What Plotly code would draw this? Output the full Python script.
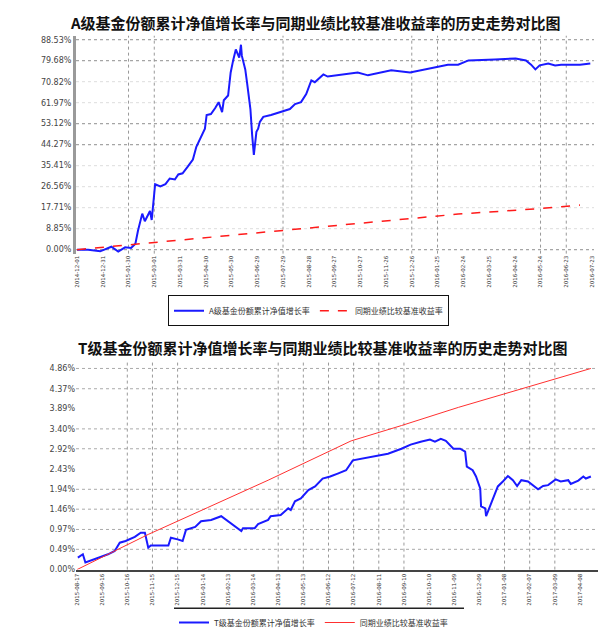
import pandas as pd
import plotly.graph_objects as go

# ---------------- data ----------------
title_a = "A级基金份额累计净值增长率与同期业绩比较基准收益率的历史走势对比图"
title_t = "T级基金份额累计净值增长率与同期业绩比较基准收益率的历史走势对比图"
name_a = "A级基金份额累计净值增长率"
name_t = "T级基金份额累计净值增长率"
name_bm = "同期业绩比较基准收益率"

start_a = "2014-12-01"
start_t = "2015-08-17"

# day offsets from start date, cumulative growth (%)
a_days = [0, 13, 27, 40, 48, 56, 63, 68, 71, 76, 79, 85, 87, 91, 97, 103, 108, 114, 118, 123,
          129, 135, 139, 144, 149, 151, 156, 161, 165, 169, 171, 176, 179, 182, 185, 189, 191, 192, 196, 198,
          202, 204, 206, 209, 211, 213, 217, 226, 238, 248, 254, 261, 267, 273, 277, 283, 287, 292, 312, 327,
          339, 366, 388, 412, 432, 444, 456, 487, 511, 523, 529, 534, 539, 549, 557, 564, 576, 586, 598]
a_vals = [0, 0, -0.7, 1.25, -0.8, 1.0, 0.7, 2.5, 8, 15.2, 12, 16.3, 12.5, 27.6, 26.7, 27.6, 30, 29.6, 31.7, 32.2,
          35, 38, 43.4, 47.2, 51, 56.8, 57.2, 59.7, 62.2, 58, 63, 65, 74.7, 80, 84.4, 81, 86.4, 81.8, 76, 70.6,
          59.3, 48.4, 40, 49.7, 51, 53.9, 56, 56.8, 58, 59.3, 61.4, 62.2, 65.6, 71.4, 70.6, 72.7, 73.9, 73, 73.9, 74.7,
          73.5, 75.6, 74.7, 76.4, 78, 78, 79.8, 80.2, 80.6, 79.8, 78, 76, 77.7, 78.5, 77.7, 78, 78, 78, 78.5]
a_bm_days = [0, 86, 211, 327, 444, 534, 586]
a_bm_vals = [0, 2.9, 7.2, 11.0, 15.0, 17.2, 18.8]

t_days = [1, 7, 10, 13, 21, 29, 37, 45, 51, 58, 69, 76, 81, 85, 88, 109, 112, 120, 126, 130,
          141, 148, 160, 172, 178, 184, 196, 198, 212, 216, 228, 231, 243, 252, 255, 260, 267, 276, 284, 293,
          302, 311, 321, 329, 339, 356, 371, 387, 398, 410, 421, 427, 434, 440, 449, 457, 463, 465, 472, 476,
          481, 482, 487, 488, 493, 499, 502, 508, 514, 520, 525, 530, 538, 550, 556, 562, 571, 577, 586, 589,
          598, 604, 607, 613]
t_vals = [0.29, 0.37, 0.17, 0.19, 0.26, 0.31, 0.37, 0.45, 0.65, 0.69, 0.79, 0.89, 0.89, 0.53, 0.58, 0.58, 0.77, 0.73, 0.69, 0.96,
          1.03, 1.17, 1.2, 1.29, 1.2, 1.12, 0.93, 1.0, 1.0, 1.1, 1.2, 1.29, 1.32, 1.48, 1.44, 1.65, 1.72, 1.92, 2.01, 2.2,
          2.25, 2.32, 2.4, 2.64, 2.68, 2.74, 2.8, 2.92, 3.02, 3.09, 3.14, 3.09, 3.16, 3.11, 2.92, 2.92, 2.85, 2.49, 2.4, 2.25,
          1.96, 1.53, 1.48, 1.29, 1.56, 1.84, 2.01, 2.13, 2.26, 2.16, 2.02, 2.16, 2.13, 1.94, 2.02, 2.04, 2.18, 2.13, 2.16, 2.07,
          2.15, 2.25, 2.2, 2.25]
t_bm_days = [0, 85, 156, 228, 327, 387, 455, 532, 613]
t_bm_vals = [0, 0.85, 1.5, 2.16, 3.11, 3.48, 3.92, 4.38, 4.86]

a_yticks = [0.00, 8.85, 17.71, 26.56, 35.41, 44.27, 53.12, 61.97, 70.82, 79.68, 88.53]
t_yticks = [0.00, 0.49, 0.97, 1.46, 1.94, 2.43, 2.92, 3.40, 3.89, 4.37, 4.86]
a_ytext = [f"{v:.2f}%" for v in a_yticks]
t_ytext = [f"{v:.2f}%" for v in t_yticks]

n_xticks = 21
tick_step_days = 30
a_vgrid_idx = [2, 3, 8, 13, 14, 18, 19]
t_vgrid_idx = [2, 3, 4, 8, 9, 10, 11, 12, 13, 17, 18, 19]
a_hgrid_strong = [88.53, 79.68, 53.12, 44.27, 0.00]
t_hgrid = [4.86, 4.37, 3.40, 2.92, 1.94, 1.46, 0.97, 0.49]


def to_dates(start, days):
    s = pd.Timestamp(start)
    return [s + pd.Timedelta(days=d) for d in days]


a_x = to_dates(start_a, a_days)
a_bm_x = to_dates(start_a, a_bm_days)
t_x = to_dates(start_t, t_days)
t_bm_x = to_dates(start_t, t_bm_days)

a_ticks = pd.date_range(start_a, periods=n_xticks, freq=f"{tick_step_days}D")
t_ticks = pd.date_range(start_t, periods=n_xticks, freq=f"{tick_step_days}D")

FONT = "Noto Sans CJK SC"
W, H = 606, 629

fig = go.Figure()
fig.add_trace(go.Scatter(x=a_x, y=a_vals, mode="lines", name=name_a,
                         line=dict(color="#1a1aff", width=2), xaxis="x", yaxis="y", legend="legend"))
fig.add_trace(go.Scatter(x=a_bm_x, y=a_bm_vals, mode="lines", name=name_bm,
                         line=dict(color="#ff1a1a", width=1.5, dash="dash"), xaxis="x", yaxis="y", legend="legend"))
fig.add_trace(go.Scatter(x=t_x, y=t_vals, mode="lines", name=name_t,
                         line=dict(color="#1a1aff", width=2), xaxis="x2", yaxis="y2", legend="legend2"))
fig.add_trace(go.Scatter(x=t_bm_x, y=t_bm_vals, mode="lines", name=name_bm,
                         line=dict(color="#ff3030", width=1), xaxis="x2", yaxis="y2", legend="legend2"))


def px_x(p):
    return p / W


def px_y(p):
    return 1 - p / H


def date_range_for(start, left_days, right_days):
    s = pd.Timestamp(start)
    return [s + pd.Timedelta(days=left_days), s + pd.Timedelta(days=right_days)]


tickfont_x = dict(family="DejaVu Sans", size=5.5, color="#333")
tickfont_y = dict(family="DejaVu Sans", size=8, color="#444")

shapes = []
# top chart grids
for v in a_yticks:
    shapes.append(dict(type="line", xref="x domain", yref="y", x0=0, x1=1, y0=v, y1=v,
                       line=dict(color="#dddddd", width=1, dash="dot"), layer="below"))
for v in a_hgrid_strong:
    shapes.append(dict(type="line", xref="x domain", yref="y", x0=0, x1=1, y0=v, y1=v,
                       line=dict(color="#999999", width=1, dash="dot"), layer="below"))
for i in a_vgrid_idx:
    shapes.append(dict(type="line", xref="x", yref="y domain", x0=a_ticks[i], x1=a_ticks[i], y0=0, y1=1,
                       line=dict(color="#999999", width=1, dash="dot"), layer="below"))
# bottom chart grids
for v in t_hgrid:
    shapes.append(dict(type="line", xref="x2 domain", yref="y2", x0=0, x1=1, y0=v, y1=v,
                       line=dict(color="#aaaaaa", width=1, dash="dot"), layer="below"))
for i in t_vgrid_idx:
    shapes.append(dict(type="line", xref="x2", yref="y2 domain", x0=t_ticks[i], x1=t_ticks[i], y0=0, y1=1,
                       line=dict(color="#999999", width=1, dash="dot"), layer="below"))
# top line over bottom legend
shapes.append(dict(type="line", xref="paper", yref="paper", x0=px_x(166), x1=px_x(456),
                   y0=px_y(606), y1=px_y(606), line=dict(color="#222", width=1.5)))

fig.update_layout(
    width=W, height=H, autosize=False,
    margin=dict(l=0, r=0, t=0, b=0),
    paper_bgcolor="white", plot_bgcolor="white",
    font=dict(family=FONT, color="#222"),
    shapes=shapes,
    xaxis=dict(domain=[px_x(68), px_x(586)], anchor="y",
               range=date_range_for(start_a, -1.2, 602.3),
               tickvals=list(a_ticks), ticktext=[d.strftime("%Y-%m-%d") for d in a_ticks],
               tickangle=-90, tickfont=tickfont_x, showgrid=False, zeroline=False,
               showline=False, ticks="", automargin=False),
    yaxis=dict(domain=[px_y(248), px_y(28)], anchor="x",
               range=[-1.67, 90.2], tickvals=a_yticks, ticktext=a_ytext,
               tickfont=tickfont_y, showgrid=False, zeroline=False,
               showline=True, linecolor="#9a9a9a", linewidth=3, ticks="", automargin=False),
    xaxis2=dict(domain=[px_x(68), px_x(590)], anchor="y2",
                range=date_range_for(start_t, -1.2, 621.5),
                tickvals=list(t_ticks), ticktext=[d.strftime("%Y-%m-%d") for d in t_ticks],
                tickangle=-90, tickfont=tickfont_x, showgrid=False, zeroline=False,
                showline=True, linecolor="#444", linewidth=2, ticks="", automargin=False),
    yaxis2=dict(domain=[px_y(567), px_y(356)], anchor="x2",
                range=[0, 5.05], tickvals=t_yticks, ticktext=t_ytext,
                tickfont=tickfont_y, showgrid=False, zeroline=False,
                showline=False, ticks="", automargin=False),
    legend=dict(x=px_x(160), y=px_y(290), xanchor="left", yanchor="top", orientation="h",
                bordercolor="#111", borderwidth=1, bgcolor="white",
                font=dict(family=FONT, size=8, color="#333"), itemwidth=30,
                tracegroupgap=0),
    legend2=dict(x=px_x(166), y=px_y(606), xanchor="left", yanchor="top", orientation="h",
                 bgcolor="rgba(0,0,0,0)",
                 font=dict(family=FONT, size=8, color="#333"), itemwidth=30),
    annotations=[
        dict(text=f"<b>{title_a}</b>", xref="paper", yref="paper", x=px_x(307), y=px_y(15),
             xanchor="center", yanchor="middle", showarrow=False,
             font=dict(family=FONT, size=15, color="#111")),
        dict(text=f"<b>{title_t}</b>", xref="paper", yref="paper", x=px_x(314), y=px_y(343),
             xanchor="center", yanchor="middle", showarrow=False,
             font=dict(family=FONT, size=15, color="#111")),
    ],
)

fig.write_html("out.html")
